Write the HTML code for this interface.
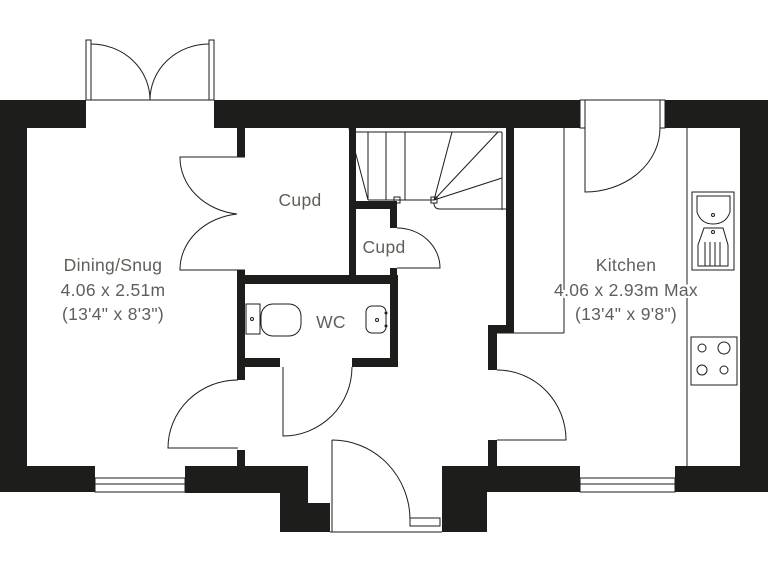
<!DOCTYPE html>
<html><head><meta charset="utf-8"><style>
html,body{margin:0;padding:0;background:#fff;}
svg{display:block}
text{font-family:"Liberation Sans",sans-serif;fill:#5f5f5a;font-size:17.5px;text-anchor:middle;letter-spacing:0.3px;paint-order:stroke;stroke:#fff;stroke-width:4px}
</style></head><body>
<svg width="768" height="576" viewBox="0 0 768 576" xmlns="http://www.w3.org/2000/svg">
<g fill="#1d1d1b">
<rect x="0" y="100" width="86" height="28"/>
<rect x="214" y="100" width="366" height="28"/>
<rect x="665" y="100" width="103" height="28"/>
<rect x="0" y="100" width="27" height="392"/>
<rect x="740" y="100" width="28" height="392"/>
<rect x="0" y="466" width="95" height="26"/>
<rect x="185" y="466" width="123" height="27"/>
<rect x="280" y="466" width="28" height="66"/>
<rect x="280" y="503" width="50" height="29"/>
<rect x="442" y="466" width="45" height="66"/>
<rect x="442" y="466" width="138" height="26"/>
<rect x="675" y="466" width="93" height="26"/>
<rect x="237" y="128" width="8" height="29"/>
<rect x="237" y="270" width="8" height="110"/>
<rect x="237" y="450" width="8" height="16"/>
<rect x="237" y="275" width="161" height="9"/>
<rect x="390" y="275" width="8" height="92"/>
<rect x="245" y="358" width="35" height="9"/>
<rect x="352" y="358" width="46" height="9"/>
<rect x="349" y="128" width="7" height="147"/>
<rect x="356" y="201" width="40" height="8"/>
<rect x="390" y="201" width="7" height="27"/>
<rect x="390" y="268" width="7" height="7"/>
<rect x="506" y="128" width="8" height="205"/>
<rect x="488" y="325" width="26" height="8"/>
<rect x="488" y="325" width="9" height="45"/>
<rect x="488" y="440" width="9" height="26"/>
</g>
<g fill="none" stroke="#1d1d1b" stroke-width="1">
<rect x="86" y="40" width="5" height="60"/><rect x="209" y="40" width="5" height="60"/>
<line x1="91" y1="100" x2="209" y2="100"/>
<path d="M91 44 A59 56 0 0 1 150 100"/><path d="M209 44 A59 56 0 0 0 150 100"/>
<rect x="95" y="478" width="90" height="14"/><line x1="95" y1="484" x2="185" y2="484"/>
<rect x="580" y="478" width="95" height="14"/><line x1="580" y1="484" x2="675" y2="484"/>
<path d="M245 157 L180 157 A65 57 0 0 0 237 214"/><path d="M245 270 L180 270 A65 56 0 0 1 237 214"/>
<path d="M397 268 L440 268 A43 40 0 0 0 397 228"/>
<path d="M283 367 L283 436 A69 69 0 0 0 352 367"/>
<path d="M238 448 L168 448 A70 68 0 0 1 238 380"/>
<path d="M497 440 L566 440 A69 70 0 0 0 497 370"/>
<path d="M332 440 L332 532 M332 440 A78 80 0 0 1 410 520"/>
<rect x="410" y="518" width="30" height="8"/><line x1="330" y1="532" x2="442" y2="532"/>
<rect x="580" y="100" width="5" height="28"/><rect x="660" y="100" width="5" height="28"/>
<line x1="585" y1="100" x2="660" y2="100"/>
<path d="M585 128 L585 192 A75 64 0 0 0 660 128"/>
<line x1="349" y1="132" x2="502" y2="132"/><line x1="502" y1="132" x2="502" y2="210"/>
<line x1="349" y1="128" x2="368" y2="200"/>
<line x1="368" y1="132" x2="368" y2="200"/><line x1="386" y1="132" x2="386" y2="200"/><line x1="405" y1="132" x2="405" y2="200"/>
<line x1="368" y1="200" x2="434" y2="200"/>
<rect x="394" y="197" width="6" height="6"/><rect x="431" y="197" width="6" height="6"/>
<line x1="434" y1="200" x2="452" y2="132"/><line x1="434" y1="200" x2="498" y2="132"/><line x1="434" y1="200" x2="502" y2="178"/>
<path d="M434 203 Q434 209 440 209 L506 209"/>
<line x1="564" y1="128" x2="564" y2="333"/><line x1="497" y1="333" x2="564" y2="333"/>
<line x1="687" y1="128" x2="687" y2="466"/>
<rect x="692" y="192" width="42" height="78"/>
<path d="M697 196 L730 196 L730 212 Q726 224 713 224 Q701 224 697 212 Z"/>
<circle cx="713" cy="215" r="1.5"/>
<path d="M704 228 L723 228 L728 245 L728 266 L698 266 L698 245 Z"/>
<circle cx="713" cy="232" r="1.5"/>
<line x1="705" y1="242" x2="705" y2="266"/><line x1="710" y1="242" x2="710" y2="266"/><line x1="715" y1="242" x2="715" y2="266"/><line x1="720" y1="242" x2="720" y2="266"/>
<rect x="691" y="337" width="46" height="48"/>
<circle cx="702" cy="348" r="4"/><circle cx="724" cy="348" r="6"/>
<circle cx="702" cy="370" r="5"/><circle cx="724" cy="370" r="4"/>
<rect x="246" y="304" width="14" height="30"/><circle cx="252" cy="319" r="1.5"/>
<rect x="261" y="304" width="40" height="32" rx="12"/>
<rect x="366" y="306" width="20" height="27" rx="6"/><circle cx="377" cy="320" r="1.5"/>
<circle cx="386" cy="313" r="1"/><circle cx="386" cy="326" r="1"/>
</g>
<text x="300" y="206">Cupd</text>
<text x="384" y="253">Cupd</text>
<text x="331" y="328">WC</text>
<text x="113" y="271">Dining/Snug</text>
<text x="113" y="296">4.06 x 2.51m</text>
<text x="113" y="320">(13'4" x 8'3")</text>
<text x="626" y="271">Kitchen</text>
<text x="626" y="296">4.06 x 2.93m Max</text>
<text x="626" y="320">(13'4" x 9'8")</text>
</svg>
</body></html>
